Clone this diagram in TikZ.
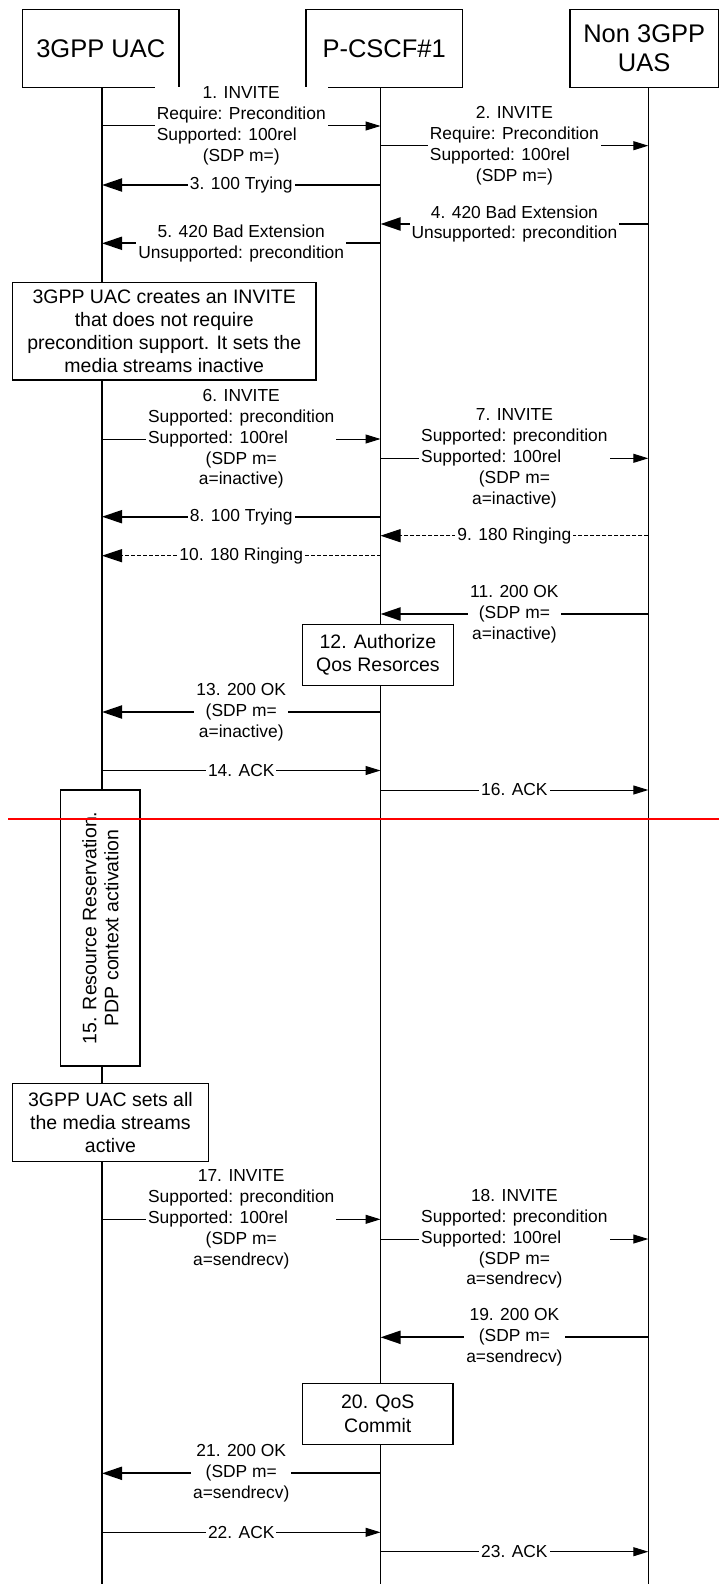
\documentclass[tikz,border=0pt]{standalone}
\usepackage{fontspec}
\setmainfont{Liberation Sans}
\usepackage{calc}
\usetikzlibrary{arrows.meta}
\newcommand\lal[2]{\makebox[\widthof{#1}][l]{#2}}
\begin{document}
\begin{tikzpicture}[x=1pt,y=-1pt,
  title/.style={draw, line width=1.3pt, fill=white, font=\fontsize{25.5}{29.4}\selectfont, align=center, inner sep=0pt},
  note/.style={draw, line width=1.3pt, fill=white, font=\fontsize{19.5}{23.3}\selectfont, align=center, inner sep=0pt},
  life/.style={line width=1.3pt},
  req/.style={line width=1pt, -{Triangle[length=15pt,width=9pt]}},
  resp/.style={line width=2pt, -{Triangle[length=20pt,width=13pt]}},
  dsh/.style={line width=1pt, dash pattern=on 4pt off 2pt, -{Triangle[length=20pt,width=13pt]}},
  lbl/.style={fill=white, font=\fontsize{17.4}{20.8}\selectfont, align=center, inner xsep=2pt, inner ysep=0.5pt},
]
\useasboundingbox (0,0) rectangle (719,1584);
% lifelines
\coordinate (la) at (102,87.3);
\coordinate (lb) at (380.5,87.3);
\coordinate (lc) at (648.3,87.3);
\coordinate (laend) at (102,1584);
\coordinate (lbend) at (380.5,1584);
\coordinate (lcend) at (648.3,1584);
\draw[life] (la) -- (laend);
\draw[life] (lb) -- (lbend);
\draw[life] (lc) -- (lcend);
% title boxes
\node[title, minimum width=156.3pt, minimum height=78pt] (uac) at (100.8,48.3) {3GPP UAC};
\node[title, minimum width=156.3pt, minimum height=78pt] (pcscf) at (384.2,48.3) {P-CSCF\#1};
\node[title, minimum width=148.3pt, minimum height=78pt] (uas) at (644.2,48.3) {Non 3GPP\\UAS};
% messages
\draw[req] (la |- 0,126) -- node[lbl] (m1) {1. INVITE\\Require: Precondition\\\lal{Require: Precondition}{Supported: 100rel}\\(SDP m=)} (lb |- 0,126);
\draw[req] (lb |- 0,145.7) -- node[lbl] (m2) {2. INVITE\\Require: Precondition\\\lal{Require: Precondition}{Supported: 100rel}\\(SDP m=)} (lc |- 0,145.7);
\draw[resp] (lb |- 0,185) -- node[lbl] (m3) {3. 100 Trying} (la |- 0,185);
\draw[resp] (lc |- 0,224) -- node[lbl] (m4) {4. 420 Bad Extension\\Unsupported: precondition} (lb |- 0,224);
\draw[resp] (lb |- 0,243.3) -- node[lbl] (m5) {5. 420 Bad Extension\\Unsupported: precondition} (la |- 0,243.3);
\node[note, minimum width=303.7pt, minimum height=97.3pt] (n1) at (164.2,331.3) {3GPP UAC creates an INVITE\\that does not require\\precondition support. It sets the\\media streams inactive};
\draw[req] (la |- 0,439) -- node[lbl] (m6) {6. INVITE\\Supported: precondition\\\lal{Supported: precondition}{Supported: 100rel}\\(SDP m=\\a=inactive)} (lb |- 0,439);
\draw[req] (lb |- 0,458.3) -- node[lbl] (m7) {7. INVITE\\Supported: precondition\\\lal{Supported: precondition}{Supported: 100rel}\\(SDP m=\\a=inactive)} (lc |- 0,458.3);
\draw[resp] (lb |- 0,516.7) -- node[lbl] (m8) {8. 100 Trying} (la |- 0,516.7);
\draw[dsh] (lc |- 0,535.7) -- node[lbl] (m9) {9. 180 Ringing} (lb |- 0,535.7);
\draw[dsh] (lb |- 0,555.7) -- node[lbl] (m10) {10. 180 Ringing} (la |- 0,555.7);
\draw[resp] (lc |- 0,614) -- node[lbl] (m11) {11. 200 OK\\(SDP m=\\a=inactive)} (lb |- 0,614);
\node[note, minimum width=150.6pt, minimum height=61.4pt] (n12) at (378,655) {12. Authorize\\Qos Resorces};
\draw[resp] (lb |- 0,712) -- node[lbl] (m13) {13. 200 OK\\(SDP m=\\a=inactive)} (la |- 0,712);
\draw[req] (la |- 0,770.5) -- node[lbl] (m14) {14. ACK} (lb |- 0,770.5);
\draw[req] (lb |- 0,790) -- node[lbl] (m16) {16. ACK} (lc |- 0,790);
\node[note, rotate=90, minimum width=276pt, minimum height=79.3pt, font=\fontsize{19.5}{22}\selectfont] (n15) at (100.3,928) {15. Resource Reservation.\\PDP context activation};
\node[note, minimum width=196.2pt, minimum height=78.4pt] (n2) at (110.4,1122.5) {3GPP UAC sets all\\the media streams\\active};
\draw[req] (la |- 0,1219.3) -- node[lbl] (m17) {17. INVITE\\Supported: precondition\\\lal{Supported: precondition}{Supported: 100rel}\\(SDP m=\\a=sendrecv)} (lb |- 0,1219.3);
\draw[req] (lb |- 0,1239) -- node[lbl] (m18) {18. INVITE\\Supported: precondition\\\lal{Supported: precondition}{Supported: 100rel}\\(SDP m=\\a=sendrecv)} (lc |- 0,1239);
\draw[resp] (lc |- 0,1337.3) -- node[lbl] (m19) {19. 200 OK\\(SDP m=\\a=sendrecv)} (lb |- 0,1337.3);
\node[note, minimum width=150.4pt, minimum height=61pt] (n20) at (377.8,1413.8) {20. QoS\\Commit};
\draw[resp] (lb |- 0,1473.3) -- node[lbl] (m21) {21. 200 OK\\(SDP m=\\a=sendrecv)} (la |- 0,1473.3);
\draw[req] (la |- 0,1532.3) -- node[lbl] (m22) {22. ACK} (lb |- 0,1532.3);
\draw[req] (lb |- 0,1551.7) -- node[lbl] (m23) {23. ACK} (lc |- 0,1551.7);
% red separator
\coordinate (redl) at (8,818.5);
\coordinate (redr) at (719,818.5);
\draw[red, line width=2pt] (redl) -- (redr);
\end{tikzpicture}
\end{document}
